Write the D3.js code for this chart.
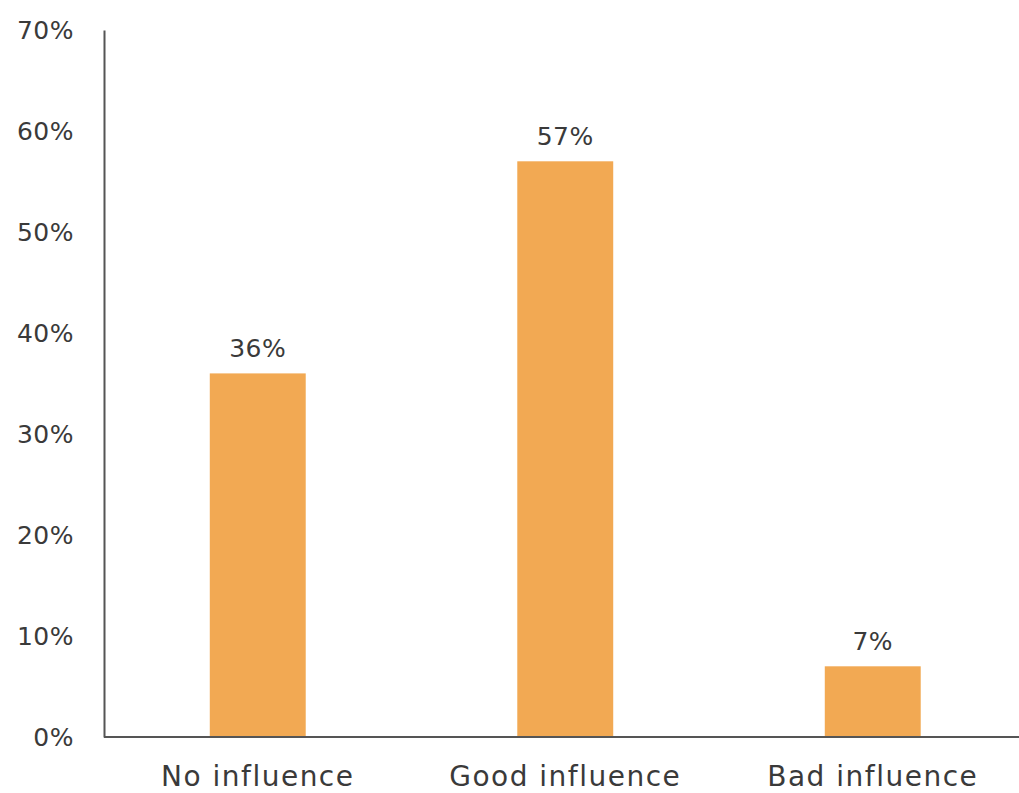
<!DOCTYPE html>
<html>
<head>
<meta charset="utf-8">
<script src="https://cdn.jsdelivr.net/npm/d3@7"></script>
<style>
  html, body { margin: 0; padding: 0; background: #fff; }
  svg { display: block; }
  .lbl { font-family: "DejaVu Sans", "Noto Sans", sans-serif; fill: #3a3a3a; }
</style>
</head>
<body>
<svg id="chart" width="1019" height="793"></svg>
<script>
// Survey answers and shares
const categories = ["No influence", "Good influence", "Bad influence"];
const values = [36, 57, 7];
const yTicks = [0, 10, 20, 30, 40, 50, 60, 70];

const svg = d3.select("#chart");
const plotLeft = 104, plotTop = 30, plotBottom = 737;

const y = d3.scaleLinear().domain([0, 70]).range([plotBottom, plotTop]);
const x = d3.scaleBand()
  .domain(categories)
  .range([plotLeft, plotLeft + 922.5])
  .paddingInner(0.688)
  .paddingOuter(0.344);

// Bars
svg.append("g").selectAll("rect")
  .data(values)
  .join("rect")
  .attr("x", (d, i) => x(categories[i]))
  .attr("y", d => y(d))
  .attr("width", x.bandwidth())
  .attr("height", d => plotBottom - y(d))
  .attr("fill", "#F2A953");

// Value labels above the bars
svg.append("g").selectAll("text")
  .data(values)
  .join("text")
  .attr("class", "lbl")
  .attr("x", (d, i) => x(categories[i]) + x.bandwidth() / 2)
  .attr("y", d => y(d) - 16)
  .attr("text-anchor", "middle")
  .attr("font-size", 25)
  .attr("letter-spacing", 0.5)
  .text(d => d + "%");

// Y axis
const yAxis = svg.append("g")
  .attr("transform", `translate(${plotLeft},0)`)
  .call(d3.axisLeft(y).tickValues(yTicks).tickSize(0).tickPadding(30).tickFormat(d => d + "%"));
yAxis.select(".domain").attr("stroke", "#555").attr("stroke-width", 2);
yAxis.selectAll("text")
  .attr("class", "lbl")
  .attr("font-size", 25)
  .attr("letter-spacing", 0.5)
  .attr("fill", "#3a3a3a");

// X axis
const xAxis = svg.append("g")
  .attr("transform", `translate(0,${plotBottom})`)
  .call(d3.axisBottom(x).tickSize(0).tickPadding(29));
xAxis.select(".domain").attr("d", `M${plotLeft},0H1019`).attr("stroke", "#555").attr("stroke-width", 2);
xAxis.selectAll("text")
  .attr("class", "lbl")
  .attr("font-size", 28)
  .attr("letter-spacing", 1.5)
  .attr("fill", "#3a3a3a");
</script>
</body>
</html>
